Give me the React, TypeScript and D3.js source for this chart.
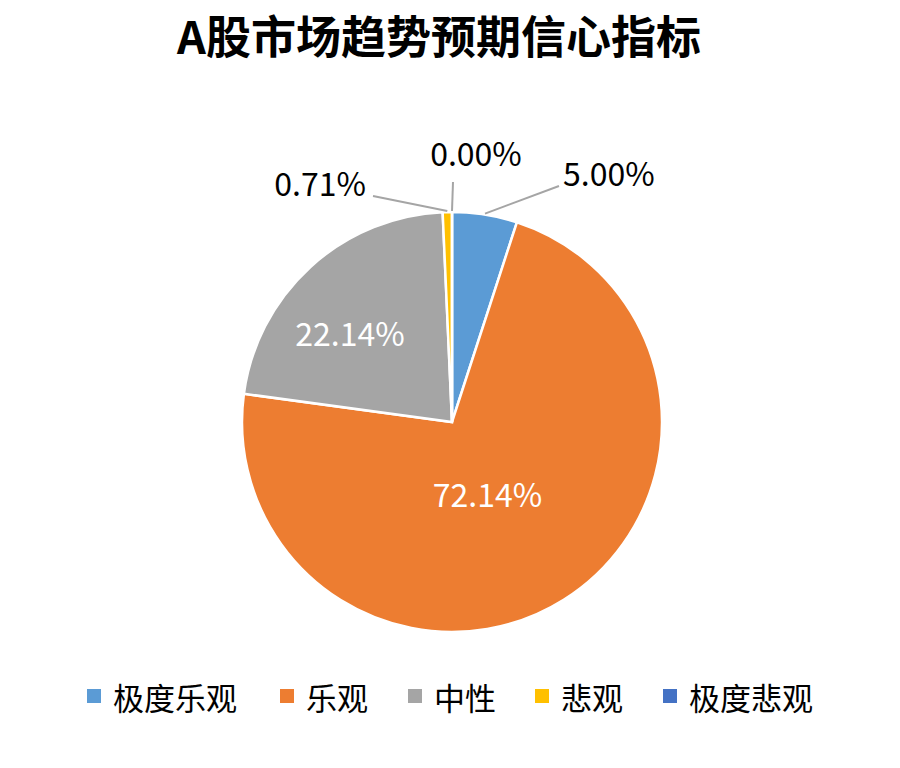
import React from "react";
import * as d3 from "d3";

const categories = ["极度乐观", "乐观", "中性", "悲观", "极度悲观"];
const values = [5.0, 72.14, 22.14, 0.71, 0.0];
const labels = ["5.00%", "72.14%", "22.14%", "0.71%", "0.00%"];
const colors = ["#5B9BD5", "#ED7D31", "#A5A5A5", "#FFC000", "#4472C4"];

const W = 900;
const H = 768;
const cx = 452;
const cy = 422;
const R = 210;
const FONT = "'Noto Sans CJK SC', 'Noto Sans', sans-serif";

export default function App() {
  const data = categories.map((c, i) => ({ c, v: values[i], label: labels[i], color: colors[i] }));
  const pie = d3.pie<any>().value((d) => d.v).sort(null);
  const arcs = pie(data);
  const arc = d3.arc<any>().innerRadius(0).outerRadius(R);

  // inside label placement (best-fit style): radius fraction and angle shift (degrees)
  const insideLabel: Record<number, { rf: number; dAng: number }> = {
    1: { rf: 0.39, dAng: 6.5 },
    2: { rf: 0.64, dAng: -7 },
  };

  // outside label leader positions (for small slices)
  const outside: Record<number, { lx: number; ly: number; tx: number; ty: number; anchor: string }> = {
    0: { lx: 559, ly: 186, tx: 563, ty: 186, anchor: "start" },
    3: { lx: 373, ly: 196, tx: 366, ty: 196, anchor: "end" },
    4: { lx: 453, ly: 182, tx: 476, ty: 166, anchor: "middle" },
  };

  const legendX = [87, 280, 408, 535, 663];

  return (
    <svg width={W} height={H} style={{ display: "block", position: "absolute", left: 0, top: 0 }}>
      <rect width={W} height={H} fill="#ffffff" />
      <text x={439} y={34} textAnchor="middle" dominantBaseline="central" fontFamily={FONT} fontSize={45} fontWeight="bold" fill="#000">
        A股市场趋势预期信心指标
      </text>
      <g transform={`translate(${cx},${cy})`}>
        {arcs.map((a, i) => (
          <path key={i} d={arc(a) || ""} fill={a.data.color} stroke="#fff" strokeWidth={2.5} />
        ))}
      </g>
      {arcs.map((a, i) => {
        const o = outside[i];
        const mid = (a.startAngle + a.endAngle) / 2;
        if (o) {
          const sx = cx + Math.sin(mid) * (R + 1);
          const sy = cy - Math.cos(mid) * (R + 1);
          return (
            <g key={i}>
              <line x1={sx} y1={sy} x2={o.lx} y2={o.ly} stroke="#A5A5A5" strokeWidth={2} />
              <text x={o.tx} y={o.ty} textAnchor={o.anchor as any} fontFamily={FONT} fontSize={32} fill="#000">
                {a.data.label}
              </text>
            </g>
          );
        }
        const il = insideLabel[i];
        const ang = mid + (il.dAng * Math.PI) / 180;
        const x = cx + Math.sin(ang) * R * il.rf;
        const y = cy - Math.cos(ang) * R * il.rf;
        return (
          <text key={i} x={x} y={y + 11.5} textAnchor="middle" fontFamily={FONT} fontSize={32} fill="#fff">
            {a.data.label}
          </text>
        );
      })}
      {data.map((d, i) => (
        <g key={i} transform={`translate(${legendX[i]},696)`}>
          <rect x={0} y={-7} width={14} height={14} fill={d.color} />
          <text x={26} y={0} dominantBaseline="central" fontFamily={FONT} fontSize={31} fill="#000">
            {d.c}
          </text>
        </g>
      ))}
    </svg>
  );
}
